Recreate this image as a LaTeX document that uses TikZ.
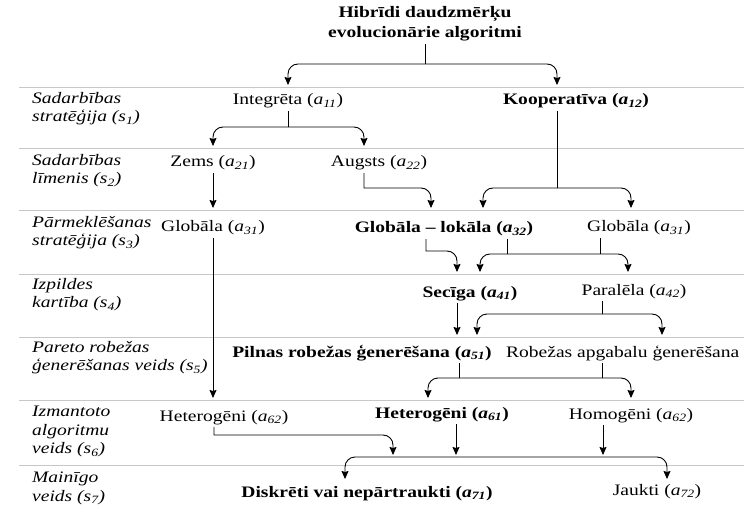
\documentclass[tikz,border=0pt]{standalone}
\usepackage{fontspec}
\setmainfont[FakeStretch=1.22]{Liberation Serif}
\usetikzlibrary{arrows.meta,calc}

\newcommand\av[1]{\textit{a}\textsubscript{\textit{#1}}}
\newcommand\sv[1]{\textit{s}\textsubscript{\textit{#1}}}

\begin{document}
\begin{tikzpicture}[x=1pt,y=-1pt,
  txt/.style={font=\fontsize{16}{18.5}\selectfont},
  item/.style={txt, inner xsep=0pt, inner ysep=4pt, text height=12pt, text depth=2pt},
  key/.style={item, font=\fontsize{16}{18.5}\selectfont\bfseries},
  heading/.style={align=center, inner sep=3pt, font=\fontsize{16}{19.5}\selectfont\bfseries},
  rowname/.style={anchor=north west, inner sep=0pt, align=left, font=\fontsize{16}{18.5}\selectfont\itshape},
  rule/.style={draw=black!22, line width=0.9pt},
  link/.style={line width=0.9pt},
  arr/.style={link, -{Stealth[length=8pt,width=7pt,inset=1pt]}},
  rcorner/.style={rounded corners=10pt}
]
\useasboundingbox (0,0) rectangle (744,505);

% row separators
\foreach \y in {87,148,210,274,337,400,465}
  \draw[rule] (19,\y) -- (744,\y);

% criteria column
\node[rowname] (s1) at (32,92)  {Sadarbības\\stratēģija (\sv{1})};
\node[rowname] (s2) at (32,154) {Sadarbības\\līmenis (\sv{2})};
\node[rowname] (s3) at (32,216) {Pārmeklēšanas\\stratēģija (\sv{3})};
\node[rowname] (s4) at (32,278) {Izpildes\\kartība (\sv{4})};
\node[rowname] (s5) at (32,341) {Pareto robežas\\ģenerēšanas veids (\sv{5})};
\node[rowname] (s6) at (32,406) {Izmantoto\\algoritmu\\veids (\sv{6})};
\node[rowname] (s7) at (32,472) {Mainīgo\\veids (\sv{7})};

% alternatives
\node[heading] (title) at (425,23.5) {Hibrīdi daudzmērķu\\evolucionārie algoritmi};
\node[item] (int)   at (288,100) {Integrēta (\av{11})};
\node[key]  (koop)  at (576,100) {Kooperatīva (\av{12})};
\node[item] (zems)  at (213,162) {Zems (\av{21})};
\node[item] (aug)   at (379,162) {Augsts (\av{22})};
\node[item] (globA) at (213,227) {Globāla (\av{31})};
\node[key]  (gl)    at (444,228) {Globāla – lokāla (\av{32})};
\node[item] (globB) at (639,227) {Globāla (\av{31})};
\node[key]  (sec)   at (470,292) {Secīga (\av{41})};
\node[item] (par)   at (634,290) {Paralēla (\av{42})};
\node[key]  (pil)   at (362,352) {Pilnas robežas ģenerēšana (\av{51})};
\node[item, anchor=west] (rob) at (506,352) {Robežas apgabalu ģenerēšana};
\node[item] (hetA)  at (224,416) {Heterogēni (\av{62})};
\node[key]  (hetB)  at (442,413) {Heterogēni (\av{61})};
\node[item] (hom)   at (631,414) {Homogēni (\av{62})};
\node[key]  (disk)  at (367,492) {Diskrēti vai nepārtraukti (\av{71})};
\node[item] (jau)   at (657,490) {Jaukti (\av{72})};

% arrow tip levels
\coordinate (t1) at (0,85);
\coordinate (t2) at (0,146);
\coordinate (t3) at (0,208);
\coordinate (t4) at (0,272);
\coordinate (t5) at (0,335);
\coordinate (t6) at (0,398);
\coordinate (tb) at (0,455);
\coordinate (t7) at (0,479);

% branching points
\coordinate (j1) at (425,64);
\coordinate (j2) at (288,127);
\coordinate (j3) at (557,188);
\coordinate (j4a) at (0,251);
\coordinate (j4) at (507,254);
\coordinate (j5) at (602,314);
\coordinate (j6) at (459,378);
\coordinate (j7a) at (0,435);
\coordinate (j7) at (456,457);

% ports on the nodes
\coordinate (koopI) at ([xshift=-19pt]koop.north);
\coordinate (koopO) at ([xshift=-19pt]koop.south);
\coordinate (augP)  at ([xshift=-15pt]aug.south);
\coordinate (augI)  at ([xshift=-15pt]aug.north);
\coordinate (glA)   at ([xshift=-13pt]gl.north);
\coordinate (glB)   at ([xshift=39pt]gl.north);
\coordinate (glL)   at ([xshift=-18pt]gl.south);
\coordinate (glR)   at ([xshift=63pt]gl.south);
\coordinate (globBI) at ([xshift=-8pt]globB.north);
\coordinate (globBO) at ([xshift=-39pt]globB.south);
\coordinate (secA)  at ([xshift=-13pt]sec.north);
\coordinate (secB)  at ([xshift=10pt]sec.north);
\coordinate (secO)  at ([xshift=-13pt]sec.south);
\coordinate (parI)  at ([xshift=-6pt]par.north);
\coordinate (parO)  at ([xshift=-32pt]par.south);
\coordinate (pilI)  at ([xshift=115pt]pil.north);
\coordinate (pilO)  at ([xshift=97pt]pil.south);
\coordinate (robI)  at ([xshift=156pt]rob.north west);
\coordinate (robO)  at ([xshift=96pt]rob.south west);
\coordinate (hetAO) at ([xshift=-10pt]hetA.south);
\coordinate (hetBI) at ([xshift=-14pt]hetB.north);
\coordinate (hetBO) at ([xshift=14pt]hetB.south);
\coordinate (homO)  at ([xshift=-28pt]hom.south);
\coordinate (diskI) at ([xshift=-22pt]disk.north);
\coordinate (diskJ) at ([xshift=26pt]disk.north);
\coordinate (jauI)  at ([xshift=10pt]jau.north);

% level 1
\draw[link] (title.south) -- (j1);
\draw[arr,rcorner] (j1) -| (int.north |- t1);
\draw[arr,rcorner] (j1) -| (koopI |- t1);

% level 2
\draw[link] (int.south) -- (j2);
\draw[arr,rcorner] (j2) -| (zems.north |- t2);
\draw[arr,rcorner] (j2) -| (augI |- t2);

% level 3
\draw[link] (koopO) -- (j3);
\draw[arr,rcorner] (j3) -| (glB |- t3);
\draw[arr,rcorner] (j3) -| (globBI |- t3);
\draw[arr] (zems.south) -- (globA.north |- t3);
\draw[arr] (augP) -- (augP |- j3) [rcorner] -- (glA |- j3) -- (glA |- t3);

% level 4
\draw[arr] (glL) -- (glL |- j4a) [rcorner] -- (secA |- j4a) -- (secA |- t4);
\draw[link] (glR) -- (j4);
\draw[link] (globBO) -- (globBO |- j4);
\draw[arr,rcorner] (j4) -| (secB |- t4);
\draw[arr,rcorner] (j4) -| (parI |- t4);

% level 5
\draw[arr] (secO) -- (secO |- t5);
\draw[link] (parO) -- (j5);
\draw[arr,rcorner] (j5) -| (pilI |- t5);
\draw[arr,rcorner] (j5) -| (robI |- t5);

% level 6
\draw[arr] (globA.south) -- (globA.south |- t6);
\draw[link] (pilO) -- (j6);
\draw[link] (robO) -- (robO |- j6);
\draw[arr,rcorner] (j6) -| (hetBI |- t6);
\draw[arr,rcorner] (j6) -| (hom.north |- t6);

% level 7
\draw[arr] (hetAO) -- (hetAO |- j7a) [rcorner] -- (diskJ |- j7a) -- (diskJ |- tb);
\draw[arr] (hetBO) -- (hetBO |- tb);
\draw[arr] (homO) -- (homO |- tb);
\draw[arr,rcorner] (j7) -| (diskI |- t7);
\draw[arr,rcorner] (j7) -| (jauI |- t7);
\end{tikzpicture}
\end{document}
